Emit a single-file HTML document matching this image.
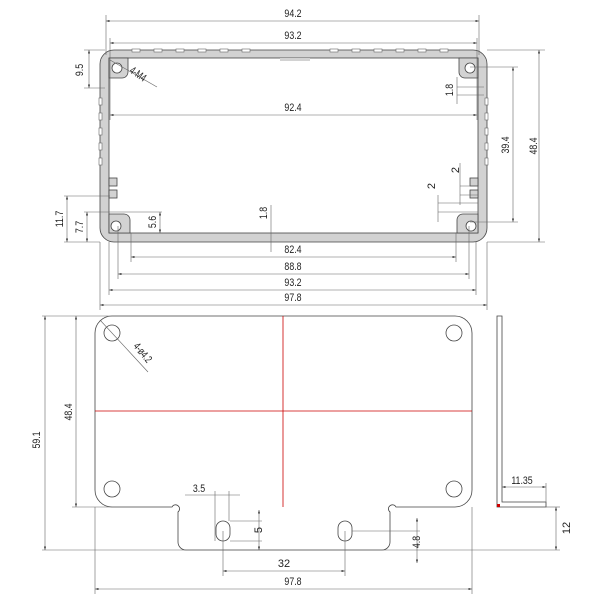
<!DOCTYPE html>
<html><head><meta charset="utf-8"><style>
html,body{margin:0;padding:0;background:#fff;}
svg{display:block}
text{font-family:"Liberation Sans",sans-serif;font-size:11px;fill:#222;}
</style></head><body>
<svg width="600" height="600" viewBox="0 0 600 600" xmlns="http://www.w3.org/2000/svg">
<defs>
<marker id="a" markerWidth="6" markerHeight="4" refX="6" refY="2" orient="auto-start-reverse"><path d="M0,0 L6,2 L0,4 z" fill="#444"/></marker>
</defs>
<g stroke="#555" stroke-width="0.8" fill="none">
<!-- profile -->
<rect x="100" y="50" width="387" height="192" rx="14" fill="#d2d2d2" stroke="#444"/>
<rect x="109" y="58" width="369" height="175" fill="#fff" stroke="#444"/>
<!-- corner bosses -->
<path d="M109,58 H128 V72 A6,6 0 0 1 122,78 H109 Z" fill="#d2d2d2" stroke="#444"/>
<path d="M478,58 H459 V72 A6,6 0 0 0 465,78 H478 Z" fill="#d2d2d2" stroke="#444"/>
<path d="M109,233 H130 V220 A6,6 0 0 0 124,214 H109 Z" fill="#d2d2d2" stroke="#444"/>
<path d="M478,233 H457 V220 A6,6 0 0 1 463,214 H478 Z" fill="#d2d2d2" stroke="#444"/>
<circle cx="117" cy="68" r="5" fill="#fff" stroke="#444"/>
<circle cx="470" cy="68" r="5" fill="#fff" stroke="#444"/>
<circle cx="116" cy="226" r="5" fill="#fff" stroke="#444"/>
<circle cx="471" cy="226" r="5" fill="#fff" stroke="#444"/>
<!-- side tabs -->
<rect x="109" y="178" width="8" height="8" fill="#d2d2d2" stroke="#444"/>
<rect x="109" y="190" width="8" height="8" fill="#d2d2d2" stroke="#444"/>
<rect x="470" y="178" width="8" height="8" fill="#d2d2d2" stroke="#444"/>
<rect x="470" y="190" width="8" height="8" fill="#d2d2d2" stroke="#444"/>
<rect x="280" y="58" width="30" height="3" fill="#d2d2d2" stroke="none"/>
</g>
<!-- fin notches -->
<g fill="#fff" stroke="#666" stroke-width="0.6">
<rect x="132" y="49" width="8" height="3"/><rect x="154" y="49" width="8" height="3"/><rect x="176" y="49" width="8" height="3"/><rect x="198" y="49" width="8" height="3"/><rect x="220" y="49" width="8" height="3"/><rect x="242" y="49" width="8" height="3"/>
<rect x="330" y="49" width="8" height="3"/><rect x="352" y="49" width="8" height="3"/><rect x="374" y="49" width="8" height="3"/><rect x="396" y="49" width="8" height="3"/><rect x="418" y="49" width="8" height="3"/><rect x="440" y="49" width="8" height="3"/>
<rect x="99" y="98" width="3" height="7"/><rect x="99" y="113" width="3" height="7"/><rect x="99" y="128" width="3" height="7"/><rect x="99" y="143" width="3" height="7"/><rect x="99" y="158" width="3" height="7"/>
<rect x="485" y="98" width="3" height="7"/><rect x="485" y="113" width="3" height="7"/><rect x="485" y="128" width="3" height="7"/><rect x="485" y="143" width="3" height="7"/><rect x="485" y="158" width="3" height="7"/>
</g>
<!-- dimensions top -->
<g stroke="#666" stroke-width="0.6" fill="none">
<line x1="106" y1="21" x2="479" y2="21" marker-start="url(#a)" marker-end="url(#a)"/>
<line x1="106" y1="15" x2="106" y2="55"/><line x1="479" y1="15" x2="479" y2="55"/>
<line x1="110" y1="43" x2="477" y2="43" marker-start="url(#a)" marker-end="url(#a)"/>
<line x1="110" y1="38" x2="110" y2="120"/><line x1="477" y1="38" x2="477" y2="120"/>
<line x1="110" y1="115" x2="477" y2="115" marker-start="url(#a)" marker-end="url(#a)"/>
<line x1="131" y1="257" x2="456" y2="257" marker-start="url(#a)" marker-end="url(#a)"/>
<line x1="131" y1="233" x2="131" y2="262"/><line x1="456" y1="233" x2="456" y2="262"/>
<line x1="118" y1="274" x2="469" y2="274" marker-start="url(#a)" marker-end="url(#a)"/>
<line x1="118" y1="226" x2="118" y2="279"/><line x1="469" y1="226" x2="469" y2="279"/>
<line x1="109" y1="290" x2="476" y2="290" marker-start="url(#a)" marker-end="url(#a)"/>
<line x1="109" y1="242" x2="109" y2="295"/><line x1="476" y1="242" x2="476" y2="295"/>
<line x1="100" y1="305" x2="487" y2="305" marker-start="url(#a)" marker-end="url(#a)"/>
<line x1="100" y1="242" x2="100" y2="310"/><line x1="487" y1="242" x2="487" y2="310"/>
<!-- right -->
<line x1="487" y1="50" x2="545" y2="50"/><line x1="487" y1="242" x2="545" y2="242"/>
<line x1="470" y1="67" x2="518" y2="67"/><line x1="470" y1="222" x2="518" y2="222"/>
<line x1="513" y1="67" x2="513" y2="222" marker-start="url(#a)" marker-end="url(#a)"/>
<line x1="539" y1="50" x2="539" y2="242" marker-start="url(#a)" marker-end="url(#a)"/>
<line x1="457" y1="77" x2="457" y2="104"/><line x1="457" y1="87" x2="484" y2="87"/><line x1="457" y1="95" x2="484" y2="95"/>
<line x1="460" y1="163" x2="460" y2="205"/><line x1="460" y1="186" x2="478" y2="186"/><line x1="460" y1="195" x2="478" y2="195"/>
<line x1="438" y1="195" x2="438" y2="222"/><line x1="438" y1="203" x2="478" y2="203"/><line x1="438" y1="212" x2="478" y2="212"/>
<!-- left -->
<line x1="84" y1="50" x2="105" y2="50"/><line x1="84" y1="88" x2="105" y2="88"/>
<line x1="89" y1="50" x2="89" y2="88" marker-start="url(#a)" marker-end="url(#a)"/>
<line x1="64" y1="196" x2="110" y2="196"/><line x1="64" y1="242" x2="100" y2="242"/>
<line x1="67" y1="196" x2="67" y2="242" marker-start="url(#a)" marker-end="url(#a)"/>
<line x1="84" y1="212" x2="162" y2="212"/>
<line x1="87" y1="212" x2="87" y2="242" marker-start="url(#a)" marker-end="url(#a)"/>
<line x1="160" y1="212" x2="160" y2="233" marker-start="url(#a)" marker-end="url(#a)"/>
<line x1="271" y1="205" x2="271" y2="252"/>
<line x1="110" y1="60" x2="157" y2="87"/>
</g>
<g stroke="#444" stroke-width="0.8" fill="none">
<!-- plate -->
<path d="M112,316 H455 A17,17 0 0 1 472,333 V490 A17,17 0 0 1 455,507 H396 A4,4 0 1 0 390,512 V542 A8,8 0 0 1 382,550 H186 A8,8 0 0 1 178,542 V512 A4,4 0 1 0 172,507 H112 A17,17 0 0 1 95,490 V333 A17,17 0 0 1 112,316 Z"/>
<circle cx="112" cy="333" r="8"/><circle cx="454" cy="333" r="8"/>
<circle cx="112" cy="489" r="8"/><circle cx="454" cy="489" r="8"/>
<rect x="216" y="521" width="14" height="20" rx="7"/>
<rect x="338" y="521" width="14" height="20" rx="7"/>
<path d="M497,316 H502 V502 H546 V507 H497 Z"/>
</g>
<g stroke="#c00" stroke-width="0.8">
<line x1="283" y1="316" x2="283" y2="507"/><line x1="95" y1="411" x2="472" y2="411"/>
</g>
<g stroke="#666" stroke-width="0.6" fill="none">
<line x1="42" y1="316" x2="190" y2="316"/><line x1="42" y1="550" x2="560" y2="550"/>
<line x1="45" y1="316" x2="45" y2="550" marker-start="url(#a)" marker-end="url(#a)"/>
<line x1="72" y1="507" x2="112" y2="507"/>
<line x1="76" y1="316" x2="76" y2="507" marker-start="url(#a)" marker-end="url(#a)"/>
<line x1="95" y1="507" x2="95" y2="594"/><line x1="472" y1="507" x2="472" y2="594"/>
<line x1="95" y1="589" x2="472" y2="589" marker-start="url(#a)" marker-end="url(#a)"/>
<line x1="223" y1="531" x2="223" y2="576"/><line x1="345" y1="531" x2="345" y2="576"/>
<line x1="223" y1="571" x2="345" y2="571" marker-start="url(#a)" marker-end="url(#a)"/>
<line x1="215" y1="491" x2="215" y2="541"/><line x1="229" y1="491" x2="229" y2="521"/>
<line x1="185" y1="495" x2="240" y2="495"/>
<line x1="230" y1="521" x2="262" y2="521"/><line x1="230" y1="541" x2="262" y2="541"/>
<line x1="259" y1="510" x2="259" y2="550" marker-start="url(#a)" marker-end="url(#a)"/>
<line x1="352" y1="531" x2="420" y2="531"/>
<line x1="417" y1="518" x2="417" y2="563" marker-start="url(#a)" marker-end="url(#a)"/>
<line x1="502" y1="487" x2="546" y2="487" marker-start="url(#a)" marker-end="url(#a)"/>
<line x1="546" y1="483" x2="546" y2="507"/>
<line x1="546" y1="507" x2="560" y2="507"/>
<line x1="556" y1="507" x2="556" y2="550" marker-start="url(#a)" marker-end="url(#a)"/>
<line x1="100" y1="320" x2="148" y2="372"/>
</g>
<rect x="497" y="504" width="3" height="3" fill="#c00"/>
<g text-anchor="middle">
<text x="293" y="17" transform="translate(293,0) scale(0.8,1) translate(-293,0)">94.2</text>
<text x="293" y="39" transform="translate(293,0) scale(0.8,1) translate(-293,0)">93.2</text>
<text x="293" y="111" transform="translate(293,0) scale(0.8,1) translate(-293,0)">92.4</text>
<text x="293" y="253" transform="translate(293,0) scale(0.8,1) translate(-293,0)">82.4</text>
<text x="293" y="270" transform="translate(293,0) scale(0.8,1) translate(-293,0)">88.8</text>
<text x="293" y="286" transform="translate(293,0) scale(0.8,1) translate(-293,0)">93.2</text>
<text x="293" y="301" transform="translate(293,0) scale(0.8,1) translate(-293,0)">97.8</text>
<text x="293" y="585" transform="translate(293,0) scale(0.8,1) translate(-293,0)">97.8</text>
<text x="284" y="567">32</text>
<text x="199" y="492" transform="translate(199,0) scale(0.8,1) translate(-199,0)">3.5</text>
<text x="522" y="484" transform="translate(522,0) scale(0.8,1) translate(-522,0)">11.35</text>
<text transform="translate(509,145) rotate(-90) scale(0.8,1)">39.4</text>
<text transform="translate(537,146) rotate(-90) scale(0.8,1)">48.4</text>
<text transform="translate(83,70) rotate(-90) scale(0.8,1)">9.5</text>
<text transform="translate(63,219) rotate(-90) scale(0.8,1)">11.7</text>
<text transform="translate(83,227) rotate(-90) scale(0.8,1)">7.7</text>
<text transform="translate(156,222) rotate(-90) scale(0.8,1)">5.6</text>
<text transform="translate(267,213) rotate(-90) scale(0.8,1)">1.8</text>
<text transform="translate(453,90) rotate(-90) scale(0.8,1)">1.8</text>
<text transform="translate(435,186) rotate(-90)">2</text>
<text transform="translate(459,170) rotate(-90)">2</text>
<text transform="translate(40,440) rotate(-90) scale(0.8,1)">59.1</text>
<text transform="translate(72,412) rotate(-90) scale(0.8,1)">48.4</text>
<text transform="translate(262,530) rotate(-90)">5</text>
<text transform="translate(420,542) rotate(-90) scale(0.8,1)">4.8</text>
<text transform="translate(570,528) rotate(-90)">12</text>
<text transform="translate(136,77) rotate(35) scale(0.7,1)" font-size="10">4-M4</text>
<text transform="translate(140,355) rotate(50) scale(0.7,1)" font-size="10">4-ø4.2</text>
</g>
</svg>
</body></html>
